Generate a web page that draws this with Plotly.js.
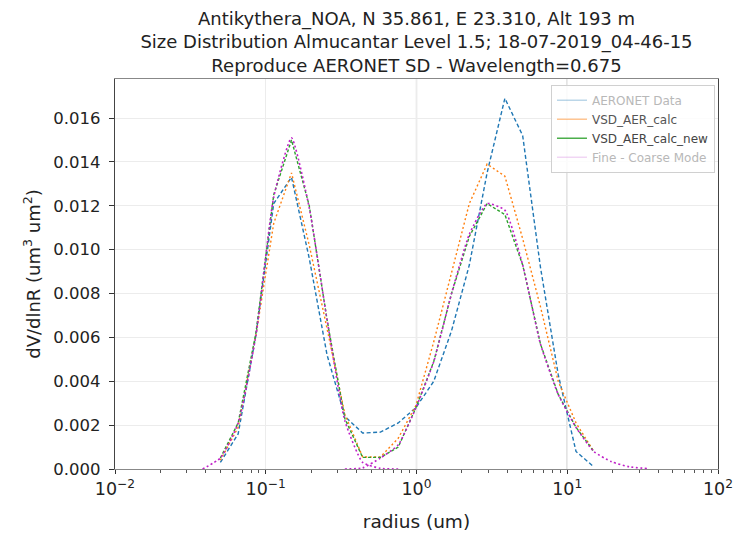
<!DOCTYPE html>
<html>
<head>
<meta charset="utf-8">
<script src="https://cdn.plot.ly/plotly-3.0.1.min.js"></script>
<style>html,body{margin:0;padding:0;background:#fff;}#chart{width:736px;height:535px;}</style>
</head>
<body>
<div id="chart"></div>
<script>
// AERONET radius bins (um)
const radius = [0.050000, 0.065604, 0.086077, 0.112939, 0.148184, 0.194429, 0.255105, 0.334716,
  0.439173, 0.576227, 0.756052, 0.991996, 1.301571, 1.707757, 2.240702, 2.939966, 3.857452,
  5.061260, 6.640745, 8.713145, 11.432287, 15.000000];

const aeronetData = [0.0003, 0.0016, 0.0061, 0.0121, 0.0133, 0.0096, 0.0052, 0.0024,
  0.00164, 0.00168, 0.0021, 0.0028, 0.0040, 0.0063, 0.0093, 0.0135, 0.0169,
  0.0152, 0.0092, 0.0043, 0.0008, 0.0001];

const vsdAerCalc = [0.0004, 0.0019, 0.0061, 0.0112, 0.0135, 0.0102, 0.0064, 0.0025,
  0.00055, 0.00055, 0.0014, 0.0029, 0.0058, 0.0090, 0.0121, 0.0139, 0.01335,
  0.0105, 0.0074, 0.0040, 0.0021, 0.0008];

const vsdAerCalcNew = [0.0005, 0.0021, 0.0062, 0.0125, 0.0150, 0.0120, 0.0068, 0.0023,
  0.00053, 0.00053, 0.0010, 0.0028, 0.0049, 0.0080, 0.0106, 0.0121, 0.0116,
  0.0093, 0.0057, 0.0034, 0.0019, 0.0008];

// Fine and coarse modes (drawn as two magenta curves)
const fineRadius = [0.038107, 0.050000, 0.065604, 0.086077, 0.112939, 0.148184, 0.194429,
  0.255105, 0.334716, 0.439173, 0.576227, 0.756052];
const fineMode = [0.0000, 0.0005, 0.0021, 0.0061, 0.0124, 0.0151, 0.0119,
  0.0068, 0.0022, 0.0003, 0.00003, 0.0000];

const coarseRadius = [0.334716, 0.439173, 0.576227, 0.756052, 0.991996, 1.301571, 1.707757,
  2.240702, 2.939966, 3.857452, 5.061260, 6.640745, 8.713145, 11.432287, 15.000000,
  19.681, 25.824, 33.884];
const coarseMode = [0.0000, 0.00005, 0.0005, 0.0011, 0.0028, 0.0049, 0.0080,
  0.0107, 0.0121, 0.0118, 0.0093, 0.0057, 0.0034, 0.0019, 0.0008,
  0.00033, 0.0001, 0.00002];

const refRadii = [1, 10];
const xTickVals = [0.01, 0.1, 1, 10, 100];
const xTickText = ['10<sup>−2</sup>', '10<sup>−1</sup>', '10<sup>0</sup>', '10<sup>1</sup>', '10<sup>2</sup>'];
const seriesNames = ['AERONET Data', 'VSD_AER_calc', 'VSD_AER_calc_new', 'Fine - Coarse Mode'];
const titleLines = ['Antikythera_NOA, N 35.861, E 23.310, Alt 193 m',
  'Size Distribution Almucantar Level 1.5; 18-07-2019_04-46-15',
  'Reproduce AERONET SD - Wavelength=0.675'];

// minor tick positions on the log axis (2..9 in each decade)
const minorTicks = [];
for (let d = -2; d < 2; d++) for (let k = 2; k <= 9; k++) minorTicks.push(k * Math.pow(10, d));

const C_BLUE = '#1f77b4', C_ORANGE = '#ff7f0e', C_GREEN = '#2ca02c', C_MAG = '#c020c8';

const traces = [
  {x: radius, y: aeronetData, mode: 'lines', showlegend: false,
   line: {color: C_BLUE, width: 1.4, dash: '4px,2.5px'}},
  {x: radius, y: vsdAerCalc, mode: 'lines', showlegend: false,
   line: {color: C_ORANGE, width: 1.4, dash: '2px,2.5px'}},
  {x: radius, y: vsdAerCalcNew, mode: 'lines', showlegend: false,
   line: {color: C_GREEN, width: 1.4, dash: '3px,2px'}},
  {x: fineRadius, y: fineMode, mode: 'lines', showlegend: false,
   line: {color: C_MAG, width: 1.6, dash: '2px,2.5px', shape: 'spline', smoothing: 0.5}},
  {x: coarseRadius, y: coarseMode, mode: 'lines', showlegend: false,
   line: {color: C_MAG, width: 1.6, dash: '2px,2.5px', shape: 'spline', smoothing: 0.5}},
  // legend entries (solid, faded, as in the reference)
  {x: [null], y: [null], mode: 'lines', name: '<span style="color:#b8b8b8">' + seriesNames[0] + '</span>',
   line: {color: 'rgba(31,119,180,0.3)', width: 1.5}},
  {x: [null], y: [null], mode: 'lines', name: '<span style="color:#555">' + seriesNames[1] + '</span>',
   line: {color: 'rgba(255,127,14,0.45)', width: 1.5}},
  {x: [null], y: [null], mode: 'lines', name: '<span style="color:#444">' + seriesNames[2] + '</span>',
   line: {color: 'rgba(44,160,44,0.85)', width: 1.5}},
  {x: [null], y: [null], mode: 'lines', name: '<span style="color:#b8b8b8">' + seriesNames[3] + '</span>',
   line: {color: 'rgba(210,120,220,0.3)', width: 1.5}}
];

const shapes = refRadii.map(r => ({
  type: 'line', xref: 'x', yref: 'paper', x0: r, x1: r, y0: 0, y1: 1,
  line: {color: 'rgba(128,128,128,0.6)', width: 1.2}, layer: 'below'
}));

const layout = {
  width: 736, height: 535,
  margin: {l: 115, r: 18, t: 79, b: 66},
  paper_bgcolor: '#fff', plot_bgcolor: '#fff',
  font: {family: 'DejaVu Sans, sans-serif', size: 16, color: '#222'},
  title: {
    text: titleLines.join('<br>'),
    font: {family: 'DejaVu Sans, sans-serif', size: 18, color: '#222'},
    x: 0.5, xref: 'paper', xanchor: 'center',
    y: 0.9533, yref: 'container', yanchor: 'middle'
  },
  xaxis: {
    type: 'log', range: [-2, 2],
    tickmode: 'array', tickvals: xTickVals, ticktext: xTickText,
    ticks: 'outside', ticklen: 4, tickcolor: '#333', tickfont: {size: 17.5},
    showgrid: true, gridcolor: '#ececec', gridwidth: 1,
    showline: true, linecolor: '#888', linewidth: 1.2, mirror: true,
    minor: {tickmode: 'array', tickvals: minorTicks, ticks: 'outside', ticklen: 2.5,
            tickcolor: '#555', showgrid: false},
    zeroline: false,
    title: {text: 'radius (um)', font: {size: 18.5}, standoff: 16}
  },
  yaxis: {
    range: [0, 0.01778], dtick: 0.002, tick0: 0, tickformat: '.3f',
    ticks: 'outside', ticklen: 5, tickcolor: '#333', tickfont: {size: 16.5},
    ticklabelstandoff: 5,
    showgrid: true, gridcolor: '#ececec', gridwidth: 1,
    showline: true, linecolor: '#444', linewidth: 1.2, mirror: true,
    zeroline: false,
    title: {text: 'dV/dlnR (um<sup>3</sup> um<sup>2</sup>)', font: {size: 18}, standoff: 8}
  },
  shapes: shapes,
  legend: {
    x: 0.995, y: 0.985, xanchor: 'right', yanchor: 'top',
    bgcolor: 'rgba(255,255,255,0.85)', bordercolor: '#d0d0d0', borderwidth: 1,
    font: {size: 12, color: '#333'}, tracegroupgap: 0, itemwidth: 30
  },
  showlegend: true
};

Plotly.newPlot('chart', traces, layout, {displayModeBar: false, staticPlot: true});
</script>
</body>
</html>
